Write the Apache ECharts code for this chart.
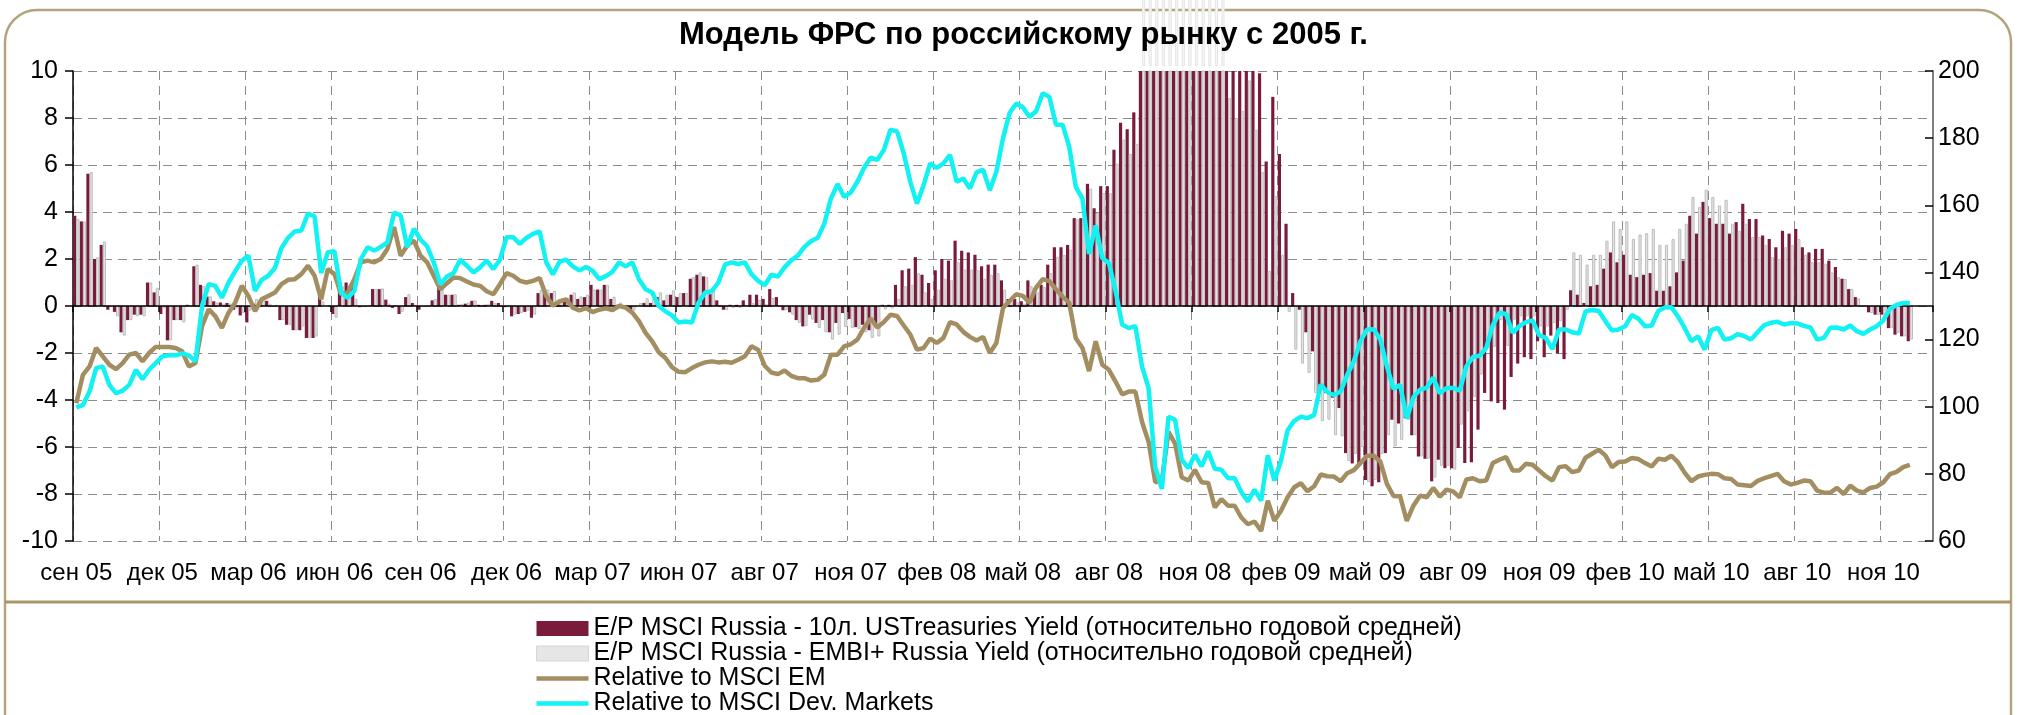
<!DOCTYPE html>
<html>
<head>
<meta charset="utf-8">
<script src="https://cdn.jsdelivr.net/npm/echarts@6/dist/echarts.min.js"></script>
<style>
html,body{margin:0;padding:0;background:#fff;}
#chart{width:2018px;height:715px;}
</style>
</head>
<body>
<div id="chart"></div>
<script>
// ---- DATA (weekly, Sep 2005 - Dec 2010) ----
const tickLabels = ['сен 05','дек 05','мар 06','июн 06','сен 06','дек 06','мар 07','июн 07','авг 07','ноя 07','фев 08','май 08','авг 08','ноя 08','фев 09','май 09','авг 09','ноя 09','фев 10','май 10','авг 10','ноя 10'];
const weeksPerTick = 13;
const categoryCount = 281;

const seriesNames = [
  'E/P MSCI Russia - 10л. USTreasuries Yield (относительно годовой средней)',
  'E/P MSCI Russia - EMBI+ Russia Yield (относительно годовой средней)',
  'Relative to MSCI EM',
  'Relative to MSCI Dev. Markets'
];

const epUST = [
3.84,3.6,5.63,2.0,2.6,-0.16,-0.25,-1.12,-0.6,-0.37,
-0.37,1.0,0.58,-0.34,-1.46,-0.6,-0.6,0.05,1.69,0.9,
0.4,0.2,0.15,0.13,-0.16,-0.4,-0.7,0.1,0.2,0.22,
0,-0.6,-0.8,-1.03,-1.03,-1.36,-1.36,0.55,0,-0.34,
1.0,1.0,1.08,-0.05,0,0.72,0.72,0.27,-0.08,-0.34,
0.38,0.13,-0.16,0,0.24,0.84,0.48,0.48,0.05,0.1,
0.22,0.05,0.05,0.22,0.13,-0.05,-0.44,-0.34,-0.25,-0.5,
0.55,0.58,0.55,0.2,0.2,0.48,0.3,0.38,0.9,0.7,
0.9,0.3,0.05,-0.1,-0.16,0,0.13,0.13,0.38,0.24,
0.48,0.38,0.55,1.16,1.33,1.26,0.5,0.24,-0.16,0.05,
0.05,0.24,0.48,0.48,0.3,0.72,0.38,-0.18,-0.27,-0.6,
-0.87,-0.37,-0.72,-0.6,-1.12,-0.72,-0.3,-0.55,-0.9,-0.8,
-1.03,-0.8,0.05,0.05,0.9,1.52,1.59,2.08,1.33,0.98,
1.52,2.0,1.93,2.78,2.35,2.28,2.18,1.69,1.76,1.76,
1.09,0.3,0.3,0.2,1.09,0.75,0.9,1.76,2.5,2.5,
2.6,3.74,3.74,5.2,4.16,5.1,5.1,6.65,7.8,7.52,
8.24,12,12,12,12,12,12,12,12,12,
12,12,12,12,12,12,12,12,10.2,9.9,
6.15,8.9,6.47,3.5,0.55,-0.16,-1.12,-1.93,-3.7,-3.7,
-3.9,-4.34,-6.26,-6.7,-6.8,-7.4,-7.67,-7.5,-6.26,-4.84,
-5.0,-4.77,-5.5,-6.4,-6.5,-7.46,-6.54,-6.9,-6.9,-6.04,
-6.68,-6.65,-5.26,-3.7,-4.06,-4.13,-4.41,-3.02,-2.45,-2.18,
-2.26,-1.5,-2.18,-1.26,-2.03,-2.26,0.67,0.48,0.13,0.84,
0.9,1.59,2.28,1.86,2.18,1.33,1.23,1.33,1.4,0.65,
0.65,0.84,1.43,1.93,3.84,3.08,4.43,3.74,3.5,3.5,
3.08,3.57,4.35,3.7,3.7,3.0,2.85,2.5,3.2,3.08,
3.28,2.5,2.28,2.43,2.43,1.93,1.66,1.16,0.72,0.38,
0,-0.27,-0.37,-0.37,-0.94,-1.22,-1.29,-1.5
];

const epEMBI = [
3.7,3.6,5.7,2.08,2.75,-0.05,-0.44,-1.26,-0.6,-0.44,
-0.44,1.0,0.77,-0.1,-1.46,-0.6,-0.7,0,1.76,0.85,
0.41,0.15,0.1,0.1,-0.1,-0.3,-0.2,0.3,0.3,0.1,
0.05,-0.6,-0.8,-1.03,-0.87,-1.36,-1.3,0.2,0,-0.5,
0.84,0.9,0.3,-0.05,0,0.72,0.75,0.1,0,-0.25,
0.5,0.05,-0.05,0,0.3,0.84,0.48,0.5,0.08,0.15,
0.24,0.05,0.08,0.12,0.05,-0.05,-0.37,-0.3,-0.2,-0.37,
0.7,0.7,0.65,0.3,0.35,0.58,0.41,0.48,0.7,0.7,
0.9,0.4,0.15,-0.05,-0.2,0.13,0.33,0.3,0.58,0.48,
0.67,0.55,0.55,1.23,1.43,1.23,0.72,0.05,-0.18,-0.08,
-0.08,0.05,0.12,0.27,0.08,0.34,0,-0.18,-0.37,-0.72,
-0.85,-0.58,-0.94,-1.12,-1.43,-1.22,-0.9,-0.94,-0.98,-1.12,
-1.36,-1.3,-0.15,-0.1,0.3,0.84,0.9,1.4,0.58,0.3,
0.7,1.16,1.09,1.86,1.55,1.55,1.52,1.16,1.33,1.4,
0.7,0.2,0.15,0.1,0.84,0.58,0.8,1.4,2.1,2.17,
2.4,3.7,3.7,5.0,3.95,4.8,4.8,6.06,7.08,6.47,
6.9,14,14,14,14,14,14,14,14,14,
14,14,14,14,8.85,8.0,8.3,9.6,7.5,5.7,
1.5,4.67,2.18,-0.25,-1.86,-2.45,-2.85,-3.7,-4.9,-4.84,
-5.5,-5.55,-6.6,-6.3,-6.0,-7.5,-7.4,-6.3,-5.5,-5.97,
-5.7,-4.84,-5.5,-6.4,-6.5,-7.3,-6.8,-6.8,-6.96,-5.05,
-4.48,-3.87,-2.92,-1.79,-1.74,-0.6,-1.7,-0.58,-0.44,-0.44,
-0.44,-0.87,-0.87,-0.72,-0.65,-0.16,2.28,2.18,1.76,2.18,
2.18,2.78,3.6,3.28,3.6,2.85,3.04,3.1,3.28,2.6,
2.6,2.85,3.28,3.5,4.64,4.21,4.95,4.64,4.28,4.52,
3.5,3.2,3.5,2.94,2.94,2.6,2.08,2.0,2.5,2.6,
2.85,2.18,1.86,1.86,1.8,1.43,1.23,1.15,0.72,0.33,
0,-0.3,-0.37,-0.5,-0.94,-1.15,-1.29,-1.43
];

const relMSCIEM = [
101,109.5,112,117.5,115,112.5,111.2,113,115.5,116,
113.5,116,117.8,117.8,117.8,117.5,116.5,112,113,124,
129,127,123.5,128,131,136,133,128.5,132,133,
134,136.5,137.8,138,139.5,142,139,132,141,139.5,
133.5,134,138,143,143.5,143,144,147,153.5,145,
148,149.5,145,143,139,135,136.8,138.5,138.3,137.3,
136.4,136,134.4,133.5,136.5,139.8,139,137.5,137,137.5,
138.3,133,130.1,131.4,132,129.5,128.7,129.4,128.2,128.9,
129.3,128.8,130,129.5,128,125.5,122,119.5,116.2,114.5,
111.8,110.4,110.3,111.5,112.5,113.2,113.5,113.2,113.4,113.1,
114,115,118,117,112.2,110.2,109.7,110.8,109.2,108.5,
108.5,107.8,108,109.5,115.5,115.5,118,118.6,120,123.5,
126.3,123.6,125.2,127.4,127,124.2,121.5,117,117.5,120.3,
119,120.5,125.2,124.5,122.3,120.8,119.7,120.8,116,119,
129.4,131.5,133.5,133,131,135.5,138,137.4,135,132.8,
131,120.4,117.5,110.6,119.5,112.5,111,107.5,103.7,104.5,
104.5,95.5,89.5,77.5,78,92.5,89,79,78,81.2,
77.5,77.3,70,72.5,70.5,70.5,67,65,65.8,63,
72,66,69,73,76,77.2,74.8,76.3,79.8,79.3,
79.2,77.8,80.2,81.1,83.2,85.4,85.4,83.7,77,73.4,
73.3,66,70.5,73.5,73,75.8,73.2,75.3,74.8,73,
78.3,78.7,77.8,78,83.2,84.2,85,81,81,83,
82.7,81,79.3,78,82,82.3,80.5,81,84.8,86,
87.2,85.5,82,83.5,83.7,84.7,84.4,83.2,82.2,84.5,
84.2,85.4,83.4,80.3,77.8,79.2,79.7,80,79.9,78.7,
78.5,76.8,76.6,76.4,77.9,78.7,79.3,80,77.8,76.8,
77.3,78,77.8,75,74.4,74.4,75.8,74,76.5,75,
74.5,75.8,76.2,77.5,79.9,80.6,82,82.7
];

const relMSCIDev = [
99.8,100.5,104.5,111.5,112,106.5,104,104.8,106.5,111,
108.2,111,113,115,115.3,115.3,115.9,115.3,113.5,130,
136.5,136,132.5,137,140.3,143.5,145,134.5,137.8,139,
141.3,147.3,150.3,152.2,152.5,157.5,156.7,139.8,146,146.3,
134,132.4,134.5,144,147.5,146.5,147.6,149,157.8,157,
147.5,153,149.8,147.8,143,136.5,138.8,139.8,143.8,142,
140,141.5,143.5,141,143.8,150.5,150.5,148.5,150.3,151.5,
152.2,143,139.4,143.2,143.8,141.8,140.6,141.6,140.5,138,
138.9,140.2,143,141.8,143,138,135,134,130,128.4,
127.2,125.1,125.4,125.1,131,134,134.4,137,142.3,143,
142.5,143,139.5,137.5,136.2,139.3,138.8,141.5,143.6,145,
147.6,149.3,150.3,154.5,162,166.3,162.5,163.8,167,171.1,
174.2,173.5,176.5,182.5,182,175.5,167,160.5,166,172.5,
171.1,172.5,175,167,168,165,169.8,170.6,164.5,170,
180,187.5,190.3,189.2,186.3,188,193.4,192.3,184,184,
177.5,165.5,162,145.5,154,144.3,142.8,134.5,124.5,123.4,
124,112,105.5,82,75.5,97,96.1,84.2,81.7,85.7,
82.2,86.7,81.5,81.2,78.7,78.7,74.6,71.8,75.3,72,
85.5,78,84,93,95.8,97,96.6,97.5,106.6,104.3,
103.5,104.5,109.5,113.5,119.5,123,123.1,120,112,105.3,
106.5,96.5,102.8,105.1,105.6,108.7,104,105.6,105.6,104.8,
112,114.8,115.2,117.5,124.3,128,127.6,122,124,125.2,
125.7,121.3,120.5,117.2,123,123,122.2,121.8,128.4,128.8,
128.5,125.5,122.7,123,124,127.3,126.2,124,124.2,128.5,
129.6,129.6,126.8,123.4,119.5,121,117,122.8,123.5,120,
120.4,121.6,121,120,122.2,124.3,125,125.3,124.5,124.9,
124.8,124.1,123.6,120,120.5,123.5,123.6,123,124.2,122.5,
121.7,123,124,125.7,129.2,130.3,130.9,130.9
];

// ---- CHART ----
const categories = [];
for (let i = 0; i < categoryCount; i++) {
  categories.push(i % weeksPerTick === 0 ? tickLabels[i / weeksPerTick] : 'w' + i);
}
// grey bars that run past the top of the plot (Excel draws the overflow faintly)
const plotTop = 10.2;
const embiInside = epEMBI.map(v => v > plotTop ? plotTop : v);
const embiOver = epEMBI.map(v => v > plotTop ? v - plotTop : null);

const FONT = '"Liberation Sans", Arial, sans-serif';
const chart = echarts.init(document.getElementById('chart'), null, {renderer: 'canvas'});

const dashed = {color: '#8c8c8c', width: 1, type: [9, 6]};
const lineIcon = 'path://M0,0L52,0L52,4.5L0,4.5Z';

chart.setOption({
  animation: false,
  backgroundColor: '#ffffff',
  title: {
    text: 'Модель ФРС по российскому рынку с 2005 г.',
    left: 679, top: 20, padding: 0,
    textStyle: {fontFamily: FONT, fontSize: 31, fontWeight: 'bold', color: '#000'}
  },
  graphic: [
    {type: 'rect', z: -10, silent: true,
     shape: {x: 5, y: 10, width: 2006, height: 760, r: 32},
     style: {fill: 'none', stroke: '#b3a47c', lineWidth: 2.5}},
    {type: 'line', z: -10, silent: true,
     shape: {x1: 5, y1: 602, x2: 2011, y2: 602},
     style: {stroke: '#a89868', lineWidth: 3}}
  ],
  legend: {
    orient: 'vertical',
    left: 536, top: 616,
    width: 1200, height: 300,
    padding: 0,
    itemGap: 0,
    itemWidth: 52, itemHeight: 15,
    textStyle: {fontFamily: FONT, fontSize: 25, color: '#000', lineHeight: 23.5},
    data: [
      {name: seriesNames[0], icon: 'rect'},
      {name: seriesNames[1], icon: 'rect', itemStyle: {color: '#e6e6e6', borderColor: '#d6d6d6', borderWidth: 1}},
      {name: seriesNames[2], icon: lineIcon},
      {name: seriesNames[3], icon: lineIcon}
    ]
  },
  grid: {left: 73, right: 85, top: 71, bottom: 174, containLabel: false},
  xAxis: [
    {
      type: 'category', data: categories, boundaryGap: true,
      position: 'bottom',
      axisLine: {show: false, onZero: false},
      axisTick: {show: false},
      axisLabel: {
        interval: weeksPerTick - 1, margin: 20,
        fontFamily: FONT, fontSize: 24, color: '#000',
        formatter: function (v, idx) { return idx % weeksPerTick === 0 ? tickLabels[idx / weeksPerTick] : ''; }
      },
      splitLine: {show: true, interval: weeksPerTick - 1, lineStyle: dashed}
    },
    {
      type: 'category', data: categories, boundaryGap: true,
      position: 'bottom', z: 3,
      axisLine: {show: true, onZero: true, lineStyle: {color: '#000', width: 1.5}},
      axisTick: {show: true, interval: weeksPerTick - 1, length: 6, lineStyle: {color: '#000', width: 1.5}},
      axisLabel: {show: false},
      splitLine: {show: false}
    }
  ],
  yAxis: [
    {
      type: 'value', min: -10, max: 10, interval: 2, position: 'left',
      axisLine: {show: true, lineStyle: {color: '#000', width: 1.5}},
      axisTick: {show: true, length: 8, lineStyle: {color: '#000', width: 1.5}},
      axisLabel: {margin: 15, fontFamily: FONT, fontSize: 25, color: '#000'},
      splitLine: {show: true, lineStyle: dashed}
    },
    {
      type: 'value', min: 60, max: 200, interval: 20, position: 'right',
      axisLine: {show: true, lineStyle: {color: '#808080', width: 2}},
      axisTick: {show: true, inside: true, length: 8, lineStyle: {color: '#000', width: 1.5}},
      axisLabel: {margin: 5, fontFamily: FONT, fontSize: 25, color: '#000'},
      splitLine: {show: false}
    }
  ],
  series: [
    {
      name: seriesNames[0], type: 'bar', xAxisIndex: 0, yAxisIndex: 0,
      data: epUST, barGap: '0%', barCategoryGap: '4%', clip: true, z: 2,
      itemStyle: {color: '#7a1b3c'}
    },
    {
      name: seriesNames[1], type: 'bar', xAxisIndex: 0, yAxisIndex: 0, stack: 'embi',
      data: embiInside, barGap: '0%', barCategoryGap: '4%', clip: true, z: 2,
      itemStyle: {color: '#e4e4e4', borderColor: '#bdbdbd', borderWidth: 1}
    },
    {
      name: seriesNames[1], type: 'bar', xAxisIndex: 0, yAxisIndex: 0, stack: 'embi',
      data: embiOver, barGap: '0%', barCategoryGap: '4%', clip: false, z: 1,
      itemStyle: {color: '#f5f5f5', borderColor: '#e6e6e6', borderWidth: 1}
    },
    {
      name: seriesNames[2], type: 'line', xAxisIndex: 0, yAxisIndex: 1,
      data: relMSCIEM, symbol: 'none', z: 5,
      lineStyle: {color: '#a38e62', width: 4.5}, itemStyle: {color: '#a38e62'}
    },
    {
      name: seriesNames[3], type: 'line', xAxisIndex: 0, yAxisIndex: 1,
      data: relMSCIDev, symbol: 'none', z: 6,
      lineStyle: {color: '#12f2f2', width: 4.5}, itemStyle: {color: '#12f2f2'}
    }
  ]
});
</script>
</body>
</html>
